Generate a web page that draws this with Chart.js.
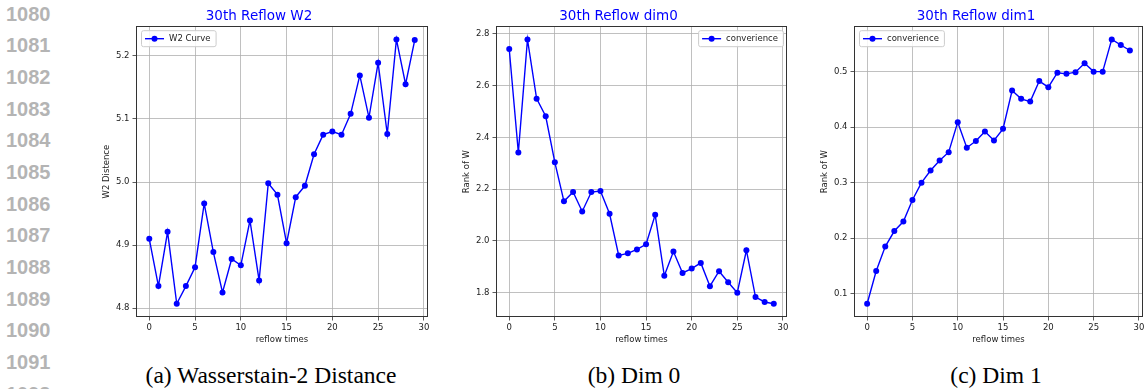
<!DOCTYPE html>
<html>
<head>
<meta charset="utf-8">
<script src="https://cdn.jsdelivr.net/npm/chart.js@4.4.0/dist/chart.umd.min.js"></script>
<style>
  body { margin: 0; background: #fff; }
  #page { position: relative; width: 1147px; height: 389px; overflow: hidden; background: #fff; }
  .lineno { position: absolute; left: 6px; font: bold 20px 'Liberation Sans', Arial, sans-serif; color: #b4b4b4; line-height: 20px; }
  .panel { position: absolute; top: 0; }
  .caption { position: absolute; top: 362px; font: 23.5px 'Liberation Serif', 'Times New Roman', serif; color: #000; line-height: 26px; white-space: nowrap; transform: translateX(-50%); }
</style>
</head>
<body>
<div id="page">
  <div class="panel" style="left:90px"><canvas id="w2Chart" width="350" height="348"></canvas></div>
  <div class="panel" style="left:450px"><canvas id="dim0Chart" width="345" height="348"></canvas></div>
  <div class="panel" style="left:808px"><canvas id="dim1Chart" width="339" height="348"></canvas></div>
  <div class="caption" style="left:271px">(a) Wasserstain-2 Distance</div>
  <div class="caption" style="left:634px">(b) Dim 0</div>
  <div class="caption" style="left:996px">(c) Dim 1</div>
</div>
<script>
// x axis: reflow step index
var reflowTimes = [0, 1, 2, 3, 4, 5, 6, 7, 8, 9, 10, 11, 12, 13, 14, 15, 16, 17, 18, 19, 20, 21, 22, 23, 24, 25, 26, 27, 28, 29];

var w2Values = [4.910, 4.835, 4.921, 4.807, 4.835, 4.865, 4.966, 4.889, 4.825, 4.878,
                4.868, 4.939, 4.844, 4.998, 4.980, 4.903, 4.976, 4.994, 5.044, 5.075,
                5.080, 5.075, 5.108, 5.169, 5.102, 5.189, 5.076, 5.226, 5.155, 5.225];
var dim0Values = [2.742, 2.342, 2.779, 2.550, 2.482, 2.304, 2.153, 2.189, 2.114, 2.189,
                  2.193, 2.105, 1.944, 1.952, 1.967, 1.987, 2.101, 1.865, 1.959, 1.876,
                  1.893, 1.915, 1.825, 1.883, 1.840, 1.800, 1.964, 1.783, 1.764, 1.757];
var dim1Values = [0.082, 0.141, 0.185, 0.213, 0.230, 0.269, 0.300, 0.322, 0.340, 0.355,
                  0.409, 0.363, 0.375, 0.392, 0.376, 0.397, 0.466, 0.451, 0.446, 0.483,
                  0.472, 0.498, 0.496, 0.499, 0.515, 0.500, 0.500, 0.558, 0.548, 0.538];

var xTicks = [0, 5, 10, 15, 20, 25, 30];
var w2Ticks = [4.8, 4.9, 5.0, 5.1, 5.2];
var dim0Ticks = [1.8, 2.0, 2.2, 2.4, 2.6, 2.8];
var dim1Ticks = [0.1, 0.2, 0.3, 0.4, 0.5];

var lineNumbers = [1080, 1081, 1082, 1083, 1084, 1085, 1086, 1087, 1088, 1089, 1090, 1091, 1092];

var page = document.getElementById('page');
for (var i = 0; i < lineNumbers.length; i++) {
    var d = document.createElement('div');
    d.className = 'lineno';
    d.style.top = (3.5 + i * 31.67) + 'px';
    d.textContent = lineNumbers[i];
    page.appendChild(d);
}

// matplotlib-like autoscale: 5% margin on each side
function padRange(vals) {
    var lo = Math.min.apply(null, vals), hi = Math.max.apply(null, vals);
    var m = (hi - lo) * 0.05;
    return { min: lo - m, max: hi + m };
}

var FONT = "'DejaVu Sans', sans-serif";
var BLUE = '#0000ff';

// frame on all four sides + matplotlib style legend box inside the axes
var axesDecor = {
    id: 'axesDecor',
    afterDraw: function(chart, args, opts) {
        var ctx = chart.ctx, a = chart.chartArea;
        ctx.save();
        ctx.strokeStyle = '#333';
        ctx.lineWidth = 1;
        ctx.strokeRect(Math.round(a.left) + 0.5, Math.round(a.top) + 0.5,
                       Math.round(a.right - a.left) - 1, Math.round(a.bottom - a.top) - 1);

        var ds = chart.data.datasets[0];
        ctx.font = '8.5px ' + FONT;
        var tw = ctx.measureText(ds.label).width;
        var w = 3 + 19 + 6 + tw + 5, h = 16;
        var x = opts.side === 'right' ? a.right - 4 - w : a.left + 5;
        var y = a.top + 4;
        ctx.fillStyle = 'rgba(255,255,255,0.85)';
        ctx.strokeStyle = '#cccccc';
        ctx.beginPath();
        ctx.roundRect(x + 0.5, y + 0.5, w, h, 2);
        ctx.fill();
        ctx.stroke();
        var cy = y + h / 2 + 0.5;
        ctx.strokeStyle = ds.borderColor;
        ctx.lineWidth = 1.4;
        ctx.beginPath();
        ctx.moveTo(x + 4, cy);
        ctx.lineTo(x + 23, cy);
        ctx.stroke();
        ctx.fillStyle = ds.borderColor;
        ctx.beginPath();
        ctx.arc(x + 13.5, cy, 3, 0, Math.PI * 2);
        ctx.fill();
        ctx.fillStyle = '#222';
        ctx.textBaseline = 'middle';
        ctx.fillText(ds.label, x + 28, cy);
        ctx.restore();
    }
};

function makeChart(id, title, label, values, yTicks, yTitle, side, rightPad) {
    var points = [];
    for (var i = 0; i < reflowTimes.length; i++) {
        points.push({ x: reflowTimes[i], y: values[i] });
    }
    var xr = padRange(reflowTimes);
    var yr = padRange(values);
    return new Chart(document.getElementById(id), {
        type: 'line',
        data: {
            datasets: [{
                label: label,
                data: points,
                borderColor: BLUE,
                backgroundColor: BLUE,
                borderWidth: 1.4,
                pointRadius: 3,
                pointBorderWidth: 0,
                pointBackgroundColor: BLUE,
                tension: 0
            }]
        },
        options: {
            responsive: false,
            animation: false,
            devicePixelRatio: 1,
            layout: { padding: { left: 0, right: rightPad, top: 0, bottom: 0 } },
            plugins: {
                legend: { display: false },
                tooltip: { enabled: false },
                title: {
                    display: true,
                    text: title,
                    color: BLUE,
                    font: { family: FONT, size: 13.5, weight: 'normal' },
                    padding: { top: 8, bottom: 2 }
                },
                axesDecor: { side: side }
            },
            scales: {
                x: {
                    type: 'linear',
                    min: xr.min,
                    max: xr.max,
                    afterBuildTicks: function(scale) {
                        scale.ticks = xTicks.map(function(v) { return { value: v }; });
                    },
                    afterFit: function(scale) { scale.height = 31; },
                    ticks: { color: '#222', font: { family: FONT, size: 8.5 }, padding: 2, maxRotation: 0 },
                    grid: { color: '#b0b0b0', lineWidth: 0.8, tickColor: '#333', tickLength: 3.5 },
                    border: { display: false },
                    title: { display: true, text: 'reflow times', color: '#222', font: { family: FONT, size: 8.5 }, padding: { top: 0, bottom: 3 } }
                },
                y: {
                    min: yr.min,
                    max: yr.max,
                    afterBuildTicks: function(scale) {
                        scale.ticks = yTicks.map(function(v) { return { value: v }; });
                    },
                    afterFit: function(scale) { scale.width = 46; },
                    ticks: {
                        color: '#222', font: { family: FONT, size: 8.5 }, padding: 3,
                        callback: function(v) { return Number(v).toFixed(1); }
                    },
                    grid: { color: '#b0b0b0', lineWidth: 0.8, tickColor: '#333', tickLength: 3.5 },
                    border: { display: false },
                    title: { display: true, text: yTitle, color: '#222', font: { family: FONT, size: 8.5 }, padding: { top: 12, bottom: 0 } }
                }
            }
        },
        plugins: [axesDecor]
    });
}

makeChart('w2Chart', '30th Reflow W2', 'W2 Curve', w2Values, w2Ticks, 'W2 Distence', 'left', 12);
makeChart('dim0Chart', '30th Reflow dim0', 'converience', dim0Values, dim0Ticks, 'Rank of W', 'right', 8);
makeChart('dim1Chart', '30th Reflow dim1', 'converience', dim1Values, dim1Ticks, 'Rank of W', 'left', 3);
</script>
</body>
</html>
